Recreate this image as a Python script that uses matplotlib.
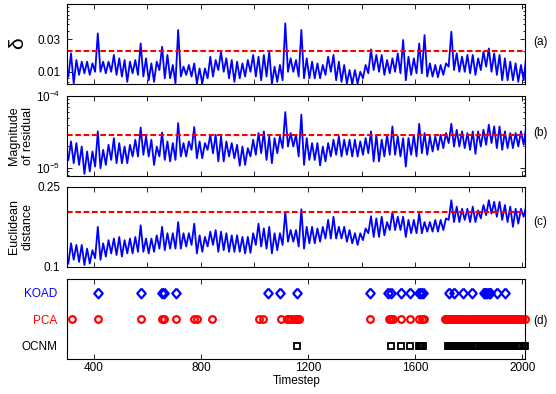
import numpy as np
import matplotlib
matplotlib.use('Agg')
import matplotlib.pyplot as plt
from matplotlib.ticker import LogLocator, NullFormatter, FixedLocator

plt.rcParams['font.family'] = ['Liberation Sans', 'DejaVu Sans']
plt.rcParams['mathtext.default'] = 'regular'

# 20-step bins, low / high envelope of each trace
timestep = np.arange(310, 2011, 20)

delta_hi = [0.0187, 0.0149, 0.0141, 0.0141, 0.0133, 0.0369, 0.0141, 0.0141, 0.0177, 0.0158,
            0.0149, 0.0141, 0.0149, 0.0262, 0.0158, 0.0133, 0.0141, 0.0234, 0.0177, 0.0126,
            0.0413, 0.0119, 0.0126, 0.0133, 0.0112, 0.0112, 0.0167, 0.0149, 0.0198, 0.0158,
            0.0149, 0.0141, 0.0133, 0.0149, 0.0177, 0.0167, 0.0177, 0.0198, 0.0119, 0.0126,
            0.0518, 0.0158, 0.0149, 0.0413, 0.0158, 0.0141, 0.0133, 0.0126, 0.0167, 0.0177,
            0.0141, 0.0126, 0.0106, 0.0106, 0.0100, 0.0126, 0.0214, 0.0177, 0.0177, 0.0149,
            0.0158, 0.0187, 0.0294, 0.0167, 0.0158, 0.0262, 0.0348, 0.0133, 0.0126, 0.0126,
            0.0133, 0.0390, 0.0187, 0.0167, 0.0177, 0.0177, 0.0158, 0.0198, 0.0221, 0.0187,
            0.0177, 0.0158, 0.0141, 0.0133, 0.0126, 0.0177]
delta_lo = [0.0085, 0.0067, 0.0090, 0.0095, 0.0090, 0.0100, 0.0100, 0.0095, 0.0100, 0.0090,
            0.0085, 0.0071, 0.0095, 0.0090, 0.0085, 0.0075, 0.0071, 0.0106, 0.0080, 0.0080,
            0.0067, 0.0085, 0.0090, 0.0085, 0.0067, 0.0067, 0.0080, 0.0085, 0.0106, 0.0100,
            0.0080, 0.0071, 0.0080, 0.0085, 0.0100, 0.0085, 0.0075, 0.0085, 0.0066, 0.0071,
            0.0075, 0.0100, 0.0100, 0.0085, 0.0080, 0.0080, 0.0080, 0.0080, 0.0090, 0.0100,
            0.0075, 0.0071, 0.0067, 0.0066, 0.0067, 0.0080, 0.0095, 0.0106, 0.0100, 0.0090,
            0.0095, 0.0100, 0.0095, 0.0075, 0.0090, 0.0095, 0.0095, 0.0085, 0.0085, 0.0083,
            0.0090, 0.0119, 0.0106, 0.0100, 0.0100, 0.0095, 0.0090, 0.0106, 0.0119, 0.0100,
            0.0090, 0.0075, 0.0075, 0.0075, 0.0071, 0.0075]

# magnitude of residual, in units of 1e-5
resid_hi = [2.34, 2.22, 1.99, 1.70, 1.70, 3.22, 1.79, 2.10, 2.60, 2.22,
            1.99, 2.10, 2.47, 3.65, 2.74, 2.47, 1.99, 3.11, 2.34, 2.22,
            4.19, 2.22, 2.34, 3.69, 2.34, 2.22, 2.89, 2.89, 2.74, 2.34,
            2.22, 2.10, 1.99, 1.89, 2.47, 3.05, 3.22, 2.74, 2.60, 2.74,
            5.95, 3.05, 2.89, 5.47, 2.60, 2.22, 2.22, 1.99, 2.22, 2.47,
            2.74, 2.47, 2.47, 2.47, 2.34, 2.60, 3.22, 2.89, 2.47, 2.89,
            3.77, 2.74, 2.60, 2.60, 2.89, 4.10, 3.05, 2.74, 2.74, 2.89,
            3.05, 4.10, 3.39, 3.22, 3.05, 3.22, 3.22, 3.39, 3.98, 3.77,
            3.77, 3.22, 3.05, 3.05, 3.22, 3.85]
resid_lo = [1.30, 1.17, 1.11, 0.835, 0.90, 1.05, 1.00, 1.11, 1.30, 1.17,
            1.17, 1.17, 1.45, 1.45, 1.53, 1.45, 1.11, 1.45, 1.30, 1.24,
            1.30, 1.45, 1.45, 1.79, 1.37, 1.37, 1.79, 1.61, 1.24, 1.24,
            1.45, 1.37, 1.08, 1.11, 1.45, 1.53, 1.61, 1.30, 1.17, 1.61,
            1.89, 1.99, 1.99, 1.45, 1.11, 1.30, 1.30, 1.09, 1.24, 1.45,
            1.53, 1.45, 1.53, 1.45, 1.45, 1.53, 1.61, 1.24, 1.24, 1.45,
            1.53, 1.53, 1.45, 1.05, 1.53, 1.45, 1.61, 1.53, 1.70, 1.79,
            1.89, 2.22, 1.99, 1.99, 1.89, 1.79, 1.58, 1.99, 2.10, 2.22,
            1.89, 1.79, 1.89, 1.89, 1.99, 2.10]

dist_hi = [0.144, 0.141, 0.141, 0.134, 0.131, 0.175, 0.144, 0.150, 0.153, 0.156,
           0.150, 0.153, 0.156, 0.178, 0.153, 0.153, 0.159, 0.175, 0.163, 0.163,
           0.184, 0.163, 0.163, 0.181, 0.159, 0.156, 0.166, 0.169, 0.166, 0.163,
           0.159, 0.159, 0.156, 0.156, 0.163, 0.181, 0.172, 0.175, 0.163, 0.163,
           0.203, 0.169, 0.169, 0.208, 0.175, 0.175, 0.172, 0.175, 0.188, 0.194,
           0.175, 0.175, 0.169, 0.163, 0.163, 0.172, 0.195, 0.191, 0.194, 0.184,
           0.203, 0.194, 0.194, 0.188, 0.188, 0.200, 0.184, 0.184, 0.188, 0.188,
           0.191, 0.225, 0.213, 0.209, 0.209, 0.213, 0.206, 0.216, 0.225, 0.222,
           0.222, 0.216, 0.213, 0.209, 0.209, 0.216]
dist_lo = [0.106, 0.113, 0.109, 0.103, 0.106, 0.116, 0.113, 0.119, 0.125, 0.122,
           0.119, 0.125, 0.125, 0.128, 0.128, 0.125, 0.128, 0.134, 0.131, 0.134,
           0.134, 0.134, 0.138, 0.141, 0.125, 0.128, 0.138, 0.141, 0.128, 0.131,
           0.128, 0.128, 0.128, 0.125, 0.126, 0.141, 0.138, 0.134, 0.125, 0.131,
           0.141, 0.147, 0.147, 0.138, 0.134, 0.144, 0.144, 0.147, 0.153, 0.153,
           0.153, 0.153, 0.147, 0.144, 0.141, 0.150, 0.163, 0.156, 0.156, 0.159,
           0.169, 0.169, 0.169, 0.156, 0.163, 0.163, 0.163, 0.166, 0.166, 0.166,
           0.169, 0.188, 0.184, 0.184, 0.188, 0.184, 0.184, 0.191, 0.197, 0.200,
           0.194, 0.188, 0.184, 0.175, 0.181, 0.194]

delta_thresh = 0.02
resid_thresh = 2.9e-5
dist_thresh = 0.203

# timesteps flagged by each detector
koad_t = [415, 578, 655, 662, 707, 1050, 1095, 1158, 1433, 1500, 1509, 1546, 1580,
          1616, 1623, 1630, 1726, 1745, 1779, 1811, 1856, 1862, 1868, 1874, 1880,
          1904, 1935]
pca_t = [320, 415, 578, 655, 663, 707, 776, 784, 842, 1015, 1032, 1098, 1122, 1130,
         1138, 1146, 1154, 1162, 1168, 1433, 1502, 1510, 1518, 1546, 1580, 1616, 1624,
         1632, 1710, 1714, 1718, 1722, 1726, 1730, 1734, 1738, 1742, 1746, 1750, 1754,
         1758, 1762, 1766, 1770, 1774, 1778, 1782, 1786, 1790, 1795, 1804, 1813, 1818,
         1822, 1826, 1830, 1834, 1842, 1851, 1855, 1859, 1863, 1867, 1871, 1875, 1879,
         1883, 1887, 1891, 1895, 1899, 1903, 1907, 1911, 1915, 1919, 1923, 1927, 1931,
         1935, 1939, 1943, 1947, 1951, 1955, 1959, 1963, 1967, 1971, 1979, 1988, 1992,
         1996, 2000, 2010]
ocnm_t = [1158, 1508, 1546, 1580, 1613, 1617, 1621, 1625, 1629, 1722, 1726, 1730,
          1734, 1738, 1742, 1746, 1750, 1754, 1758, 1762, 1766, 1770, 1774, 1778, 1782,
          1786, 1790, 1794, 1798, 1802, 1806, 1810, 1814, 1818, 1822, 1832, 1842, 1846,
          1850, 1854, 1858, 1862, 1866, 1870, 1874, 1878, 1882, 1886, 1890, 1894, 1898,
          1902, 1906, 1910, 1914, 1918, 1922, 1926, 1930, 1934, 1938, 1942, 1946, 1950,
          1954, 1958, 1962, 1966, 1970, 1979, 1988, 1992, 1996, 2006, 2010]
detectors = ['KOAD', 'PCA', 'OCNM']
det_colors = ['blue', 'red', 'black']

FS = 8.5
XLIM = (301, 2011)


def zigzag(lo, hi):
    # alternate low/high reading inside each bin to get the noisy band
    t = np.asarray(timestep)
    x = np.column_stack([t - 5, t + 5]).ravel()
    y = np.column_stack([lo, hi]).ravel()
    return x, y


def style_axes(ax):
    ax.set_xlim(*XLIM)
    ax.tick_params(which='both', direction='in', top=True, right=True,
                   labelsize=FS, width=0.6)
    ax.tick_params(which='major', length=3.3)
    ax.tick_params(which='minor', length=1.6)
    ax.tick_params(axis='y', pad=5)
    for sp in ax.spines.values():
        sp.set_linewidth(0.8)


fig = plt.figure(figsize=(5.56, 3.94), dpi=100)
left, width = 0.121, 0.8237
ax_a = fig.add_axes([left, 0.7868, width, 0.203])
ax_b = fig.add_axes([left, 0.5533, width, 0.2038])
ax_c = fig.add_axes([left, 0.3231, width, 0.2023])
ax_d = fig.add_axes([left, 0.0888, width, 0.2023])

LW = 1.3
dash = (0, (2.7, 1.3))

# (a) delta
x, y = zigzag(delta_lo, delta_hi)
ax_a.plot(x, y, color='blue', lw=LW)
ax_a.axhline(delta_thresh, color='red', lw=1.5, ls=dash)
ax_a.set_yscale('log')
ax_a.set_ylim(0.0066, 0.1)
ax_a.yaxis.set_major_locator(FixedLocator([0.01, 0.03]))
ax_a.set_yticklabels(['0.01', '0.03'])
ax_a.yaxis.set_minor_locator(LogLocator(subs=np.arange(2, 10)))
ax_a.yaxis.set_minor_formatter(NullFormatter())

# (b) residual
x, y = zigzag(np.array(resid_lo) * 1e-5, np.array(resid_hi) * 1e-5)
ax_b.plot(x, y, color='blue', lw=LW)
ax_b.axhline(resid_thresh, color='red', lw=1.5, ls=dash)
ax_b.set_yscale('log')
ax_b.set_ylim(7.8e-6, 1e-4)
ax_b.yaxis.set_minor_locator(LogLocator(subs=np.arange(2, 10)))
ax_b.yaxis.set_minor_formatter(NullFormatter())

# (c) euclidean distance
x, y = zigzag(dist_lo, dist_hi)
ax_c.plot(x, y, color='blue', lw=LW)
ax_c.axhline(dist_thresh, color='red', lw=1.5, ls=dash)
ax_c.set_ylim(0.1, 0.25)
ax_c.set_yticks([0.1, 0.25])
ax_c.set_yticklabels(['0.1', '0.25'])

for ax in (ax_a, ax_b, ax_c):
    style_axes(ax)
    ax.set_xticks(np.arange(400, 2001, 200))
    ax.set_xticklabels([])

# (d) detections
diamond = [(0, 1), (0.87, 0), (0, -1), (-0.87, 0), (0, 1)]
ax_d.plot(koad_t, [3] * len(koad_t), ls='none', marker=diamond, ms=7,
          mfc='none', mec='blue', mew=1.6, clip_on=False)
ax_d.plot(pca_t, [2] * len(pca_t), ls='none', marker='o', ms=4.8,
          mfc='none', mec='red', mew=1.6, clip_on=False)
ax_d.plot(ocnm_t, [1] * len(ocnm_t), ls='none', marker='s', ms=4.0,
          mfc='none', mec='black', mew=1.3, clip_on=False)
style_axes(ax_d)
ax_d.set_ylim(0.5, 3.5)
ax_d.set_yticks([3, 2, 1])
ax_d.set_yticklabels(detectors)
ax_d.tick_params(axis='y', which='both', length=0, pad=7)
for lbl, c in zip(ax_d.get_yticklabels(), det_colors):
    lbl.set_color(c)
ax_d.set_xticks(np.arange(400, 2001, 400))
ax_d.tick_params(axis='x', pad=2)
ax_d.set_xlabel('Timestep', fontsize=FS, labelpad=1)

# axis titles on the left
fig.text(17.5 / 556, 1 - 43 / 394, '\u03b4', fontsize=15, rotation=90,
         ha='center', va='center')
fig.text(21 / 556, 1 - 136 / 394, 'Magnitude\nof residual', fontsize=9,
         rotation=90, ha='center', va='center', linespacing=1.2)
fig.text(21 / 556, 1 - 227 / 394, 'Euclidean\ndistance', fontsize=9,
         rotation=90, ha='center', va='center', linespacing=1.2)

# panel tags
for ax, tag, yy in [(ax_a, '(a)', 0.525), (ax_b, '(b)', 0.54),
                    (ax_c, '(c)', 0.56), (ax_d, '(d)', 0.48)]:
    ax.text(1.017, yy, tag, transform=ax.transAxes, fontsize=FS,
            ha='left', va='center')

fig.savefig('out.png', dpi=100)
